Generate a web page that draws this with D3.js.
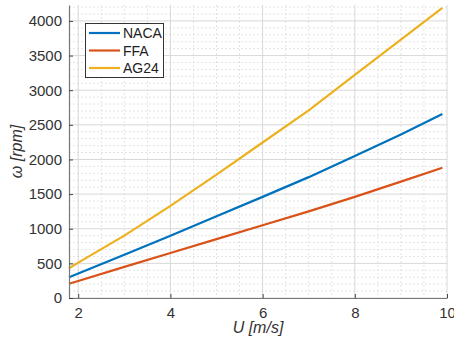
<!DOCTYPE html>
<html><head><meta charset="utf-8">
<script src="https://cdn.jsdelivr.net/npm/d3@7"></script>
<style>body{margin:0;background:#fff}svg{display:block}text{font-family:"Liberation Sans",Arial,sans-serif}</style>
</head><body><svg id="c" width="454" height="350"></svg>
<script>
const U = [1.8, 2, 3, 4, 5, 6, 7, 8, 9, 9.9];
const NACA = [300, 355, 625, 900, 1180, 1460, 1745, 2050, 2360, 2655];
const FFA = [205, 245, 450, 650, 850, 1050, 1250, 1460, 1680, 1880];
const AG24 = [430, 510, 900, 1330, 1780, 2245, 2710, 3220, 3730, 4190];
const seriesNames = ["NACA", "FFA", "AG24"];
const colors = ["#0072BD", "#D95319", "#EDB120"];
const xTicks = [2, 4, 6, 8, 10];
const yTicks = [0, 500, 1000, 1500, 2000, 2500, 3000, 3500, 4000];

const svg = d3.select("#c");
const L = 69, R = 447, T = 5, B = 298;
const x = d3.scaleLinear().domain([1.8, 10]).range([L, R]);
const y = d3.scaleLinear().domain([0, 4230]).range([B, T]);

// minor grid
const xMinor = d3.range(2, 10.01, 0.5).filter(v => !xTicks.includes(v));
const yMinor = d3.range(100, 4230, 100).filter(v => v % 500 !== 0);
const g = svg.append("g");
g.selectAll(".xm").data(xMinor).join("line")
  .attr("x1", d => x(d)).attr("x2", d => x(d)).attr("y1", T).attr("y2", B)
  .attr("stroke", "#e4e4e4").attr("stroke-dasharray", "2,2").attr("stroke-width", 1);
g.selectAll(".ym").data(yMinor).join("line")
  .attr("x1", L).attr("x2", R).attr("y1", d => y(d)).attr("y2", d => y(d))
  .attr("stroke", "#e4e4e4").attr("stroke-dasharray", "2,2").attr("stroke-width", 1);
// major grid
g.selectAll(".xg").data(xTicks).join("line")
  .attr("x1", d => x(d)).attr("x2", d => x(d)).attr("y1", T).attr("y2", B)
  .attr("stroke", "#d8d8d8").attr("stroke-width", 1);
g.selectAll(".yg").data(yTicks).join("line")
  .attr("x1", L).attr("x2", R).attr("y1", d => y(d)).attr("y2", d => y(d))
  .attr("stroke", "#d8d8d8").attr("stroke-width", 1);

// lines
const data = [NACA, FFA, AG24];
const line = d3.line().x((d, i) => x(U[i])).y(d => y(d));
svg.selectAll(".s").data(data).join("path")
  .attr("d", d => line(d)).attr("fill", "none")
  .attr("stroke", (d, i) => colors[i]).attr("stroke-width", 2.2);

// axes
const xAxis = d3.axisBottom(x).tickValues(xTicks).tickFormat(d3.format("d")).tickSizeInner(-4).tickSizeOuter(0).tickPadding(9);
const yAxis = d3.axisLeft(y).tickValues(yTicks).tickFormat(d3.format("d")).tickSizeInner(-4).tickSizeOuter(0).tickPadding(7);
const gx = svg.append("g").attr("transform", `translate(0,${B})`).call(xAxis);
const gy = svg.append("g").attr("transform", `translate(${L},0)`).call(yAxis);
[gx, gy].forEach(a => {
  a.select(".domain").attr("stroke", "#777").attr("stroke-width", 1.2);
  a.selectAll(".tick line").attr("stroke", "#444");
  a.selectAll(".tick text").attr("font-size", 15).attr("fill", "#333")
    .style("font-family", '"Liberation Sans",Arial,sans-serif');
});

// axis labels
svg.append("text").attr("x", (L + R) / 2).attr("y", 333).attr("text-anchor", "middle")
  .attr("font-size", 16).attr("font-style", "italic").attr("fill", "#333").text("U [m/s]");
svg.append("text").attr("transform", `translate(22,${(T + B) / 2}) rotate(-90)`)
  .attr("text-anchor", "middle").attr("font-size", 16).attr("font-style", "italic")
  .attr("fill", "#333").text("ω [rpm]");

// legend
const lg = svg.append("g");
lg.append("rect").attr("x", 85.5).attr("y", 23.5).attr("width", 78).attr("height", 54)
  .attr("fill", "#fff").attr("stroke", "#333").attr("stroke-width", 1);
seriesNames.forEach((n, i) => {
  const yy = 33 + i * 17.5;
  lg.append("line").attr("x1", 89).attr("x2", 120).attr("y1", yy).attr("y2", yy)
    .attr("stroke", colors[i]).attr("stroke-width", 2.2);
  lg.append("text").attr("x", 123).attr("y", yy + 5).attr("font-size", 14)
    .attr("fill", "#222").text(n);
});
</script></body></html>
